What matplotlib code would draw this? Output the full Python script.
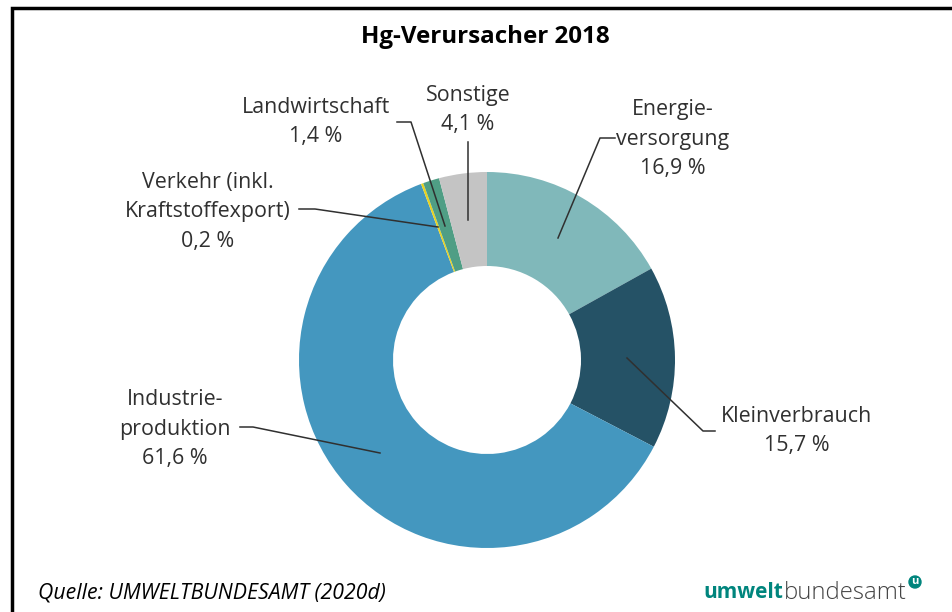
import matplotlib
matplotlib.use("Agg")
import matplotlib.pyplot as plt
from matplotlib.patches import Circle

categories = ["Energie-\nversorgung", "Kleinverbrauch", "Industrie-\nproduktion",
              "Verkehr (inkl.\nKraftstoffexport)", "Landwirtschaft", "Sonstige"]
values = [16.9, 15.7, 61.6, 0.2, 1.4, 4.1]
value_labels = ["16,9 %", "15,7 %", "61,6 %", "0,2 %", "1,4 %", "4,1 %"]
colors = ["#80b8ba", "#255266", "#4497bf", "#e9d31f", "#4f9e85", "#c4c4c4"]

W, H = 953, 612
plt.rcParams['font.family'] = ['Open Sans', 'DejaVu Sans']
fig = plt.figure(figsize=(W / 100, H / 100), dpi=100)
ax = fig.add_axes([0, 0, 1, 1])

def Y(py):
    return H - py

cx, cy, R, w = 487, 360, 188, 94
ax.pie(values, colors=colors, startangle=90, counterclock=False,
       center=(cx, Y(cy)), radius=R,
       wedgeprops=dict(width=w, linewidth=0))
ax.set_xlim(0, W)
ax.set_ylim(0, H)
ax.set_aspect('auto')
ax.axis('off')

# frame (left and top lines)
ax.plot([12.5, 12.5, W], [0, Y(7.5), Y(7.5)], color="black", lw=2.5,
        solid_joinstyle='miter', clip_on=False)

ax.text(485, Y(37), "Hg-Verursacher 2018", ha="center", va="center",
        fontsize=17.4, fontweight="bold", color="black")

# label positions (block centers) and leader lines
label_pos = [(673, 139), (797, 431), (175, 429), (208, 212), (316, 122), (468, 110)]
leaders = [
    [(615, 138), (600, 138), (558, 238)],
    [(715, 431), (703, 431), (627, 358)],
    [(240, 427), (253, 427), (380, 453)],
    [(299, 209), (315, 209), (438, 227)],
    [(397, 122), (411, 122), (445, 226)],
    [(468, 142), (468, 220)],
]
txtcol = "#303030"
for cat, vl, (px, py), pts in zip(categories, value_labels, label_pos, leaders):
    ax.text(px, Y(py), cat + "\n" + vl, ha="center", va="center",
            fontsize=15.4, color=txtcol, linespacing=1.55, multialignment="center")
    xs = [p[0] for p in pts]
    ys = [Y(p[1]) for p in pts]
    ax.plot(xs, ys, color=txtcol, lw=1.1)

# footer
ax.text(38, Y(593), "Quelle: UMWELTBUNDESAMT (2020d)", ha="left", va="center",
        fontsize=15.3, fontstyle="italic", color="black")
t1 = ax.text(703, Y(593), "umwelt", ha="left", va="center", fontsize=15,
             fontweight="bold", color="#00857d")
fig.canvas.draw()
bb = t1.get_window_extent()
ax.text(bb.x1 + 1, Y(593), "bundesamt", ha="left", va="center", fontsize=17.2,
        fontweight="light", color="#444444")
circ = Circle((915, Y(582)), 6, color="#00857d", transform=ax.transData)
ax.add_patch(circ)
ax.text(915, Y(582), "u", ha="center", va="center", fontsize=8,
        fontweight="bold", color="white")

fig.savefig("out.png", dpi=100)
